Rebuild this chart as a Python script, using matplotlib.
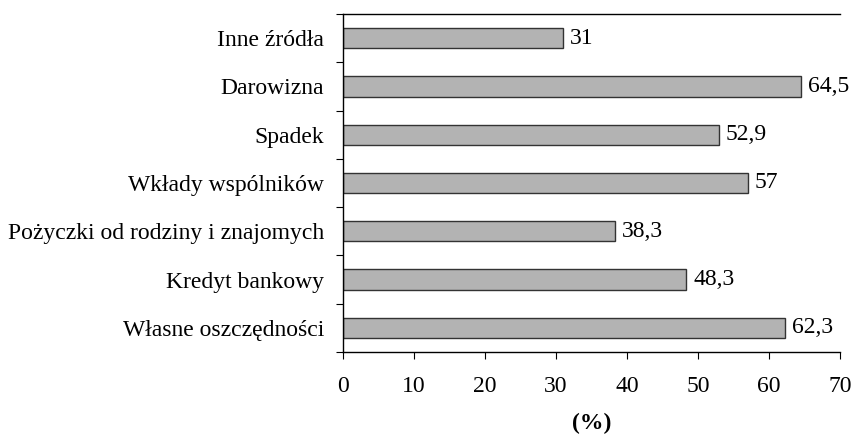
import numpy as np
import matplotlib.pyplot as plt

plt.rcParams['font.family'] = ['Liberation Serif', 'DejaVu Serif']

categories = ['Własne oszczędności', 'Kredyt bankowy', 'Pożyczki od rodziny i znajomych',
              'Wkłady wspólników', 'Spadek', 'Darowizna', 'Inne źródła']
values = [62.3, 48.3, 38.3, 57, 52.9, 64.5, 31]
labels = ['62,3', '48,3', '38,3', '57', '52,9', '64,5', '31']

fs = 17

fig = plt.figure(figsize=(8.51, 4.37), dpi=100)
ax = fig.add_axes([343 / 851, 1 - 352 / 437, (840 - 343) / 851, (352 - 14) / 437])

y = np.arange(len(categories))
ax.barh(y, values, height=0.42, color='#b3b3b3', edgecolor='#333333', linewidth=1)
for yi, v, lab in zip(y, values, labels):
    ax.text(v + 1.0, yi, lab, va='center', ha='left', fontsize=fs)

ax.set_xlim(0, 70)
ax.set_ylim(-0.5, len(categories) - 0.5)
ax.set_xticks(range(0, 71, 10))
ax.tick_params(axis='x', labelsize=fs, direction='out', length=5, pad=12.5)

# category labels between boundary ticks
ax.set_yticks(np.arange(-0.5, len(categories), 1))
ax.set_yticklabels([])
ax.set_yticks(y, minor=True)
ax.set_yticklabels(categories, minor=True, fontsize=fs)
ax.tick_params(axis='y', which='major', direction='out', length=5)
ax.tick_params(axis='y', which='minor', length=0, pad=13.5)

ax.spines['right'].set_visible(False)
for s in ['top', 'left', 'bottom']:
    ax.spines[s].set_linewidth(1)
ax.set_xlabel('(%)', fontsize=fs, fontweight='bold', labelpad=11)

fig.savefig('out.png', dpi=100)
